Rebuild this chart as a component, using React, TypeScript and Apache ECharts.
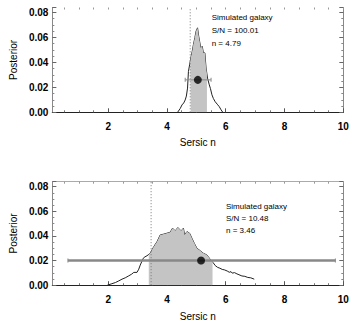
import React, { useEffect, useRef } from "react";
import * as echarts from "echarts";

// ---- data ----
const xTickLabels = [2, 4, 6, 8, 10];
const xMinorTicks = [0.5, 1, 1.5, 2.5, 3, 3.5, 4.5, 5, 5.5, 6.5, 7, 7.5, 8.5, 9, 9.5];
const xAllTicks = [0.5, 1, 1.5, 2, 2.5, 3, 3.5, 4, 4.5, 5, 5.5, 6, 6.5, 7, 7.5, 8, 8.5, 9, 9.5, 10];

// Top panel (S/N = 100.01)
const topCurve: [number, number][] = [
  [4.36, 0], [4.45, 0.003], [4.51, 0.0059], [4.57, 0.0075], [4.62, 0.0099], [4.66, 0.013],
  [4.70, 0.0194], [4.73, 0.0327], [4.77, 0.038], [4.81, 0.0435], [4.86, 0.049], [4.90, 0.0543],
  [4.95, 0.060], [4.99, 0.065], [5.04, 0.0677], [5.08, 0.061], [5.11, 0.0569], [5.15, 0.0516],
  [5.20, 0.0529], [5.24, 0.0476], [5.29, 0.0476], [5.33, 0.0355], [5.38, 0.0274], [5.44, 0.022],
  [5.48, 0.019], [5.53, 0.014], [5.58, 0.011], [5.64, 0.0085], [5.71, 0.0065], [5.78, 0.0045],
  [5.84, 0.002], [5.90, 0],
];
const topShadeEdges: [number, number][] = [[4.79, 0.041], [5.36, 0.031]];
const topTrueN = 4.79;
const topPoint: [number, number] = [5.05, 0.026];
const topErrBar: [number, number] = [4.62, 5.50];
const topTexts = ["Simulated galaxy", "S/N = 100.01", "n = 4.79"];

// Bottom panel (S/N = 10.48)
const botCurve: [number, number][] = [
  [1.97, 0], [2.1, 0.001], [2.25, 0.0022], [2.36, 0.0035], [2.47, 0.0049], [2.58, 0.006],
  [2.70, 0.0076], [2.80, 0.009], [2.87, 0.0104], [2.98, 0.0104], [3.04, 0.013], [3.09, 0.0163],
  [3.14, 0.019], [3.19, 0.0218], [3.25, 0.023], [3.32, 0.0239], [3.43, 0.0259], [3.55, 0.0313],
  [3.66, 0.0353], [3.77, 0.0408], [3.88, 0.0414], [4.0, 0.0422], [4.11, 0.043], [4.19, 0.0463],
  [4.28, 0.0441], [4.37, 0.0468], [4.48, 0.0441], [4.56, 0.0463], [4.60, 0.0408], [4.68, 0.0435],
  [4.77, 0.0422], [4.85, 0.0381], [4.93, 0.034], [5.02, 0.030], [5.13, 0.028], [5.24, 0.0259],
  [5.36, 0.0245], [5.44, 0.022], [5.50, 0.020], [5.58, 0.018], [5.64, 0.016], [5.72, 0.0145],
  [5.80, 0.0138], [5.88, 0.0128], [5.95, 0.0125], [6.05, 0.0115], [6.12, 0.0105], [6.18, 0.011],
  [6.22, 0.0098], [6.30, 0.0102], [6.38, 0.0092], [6.45, 0.0085], [6.55, 0.0075], [6.65, 0.0072],
  [6.75, 0.0063], [6.85, 0.006], [6.97, 0.0049],
];
const botShadeEdges: [number, number][] = [[3.38, 0.0251], [5.55, 0.0188]];
const botTrueN = 3.46;
const botPoint: [number, number] = [5.16, 0.02];
const botErrBar: [number, number] = [0.63, 9.73];
const botTexts = ["Simulated galaxy", "S/N = 10.48", "n = 3.46"];

const X_MIN = 0.1;
const X_MAX = 10;
const Y_MAX = 0.084;
const FONT = "'Liberation Sans', Arial, Helvetica, sans-serif";

function shadeData(curve: [number, number][], edges: [number, number][]) {
  const [lo, hi] = edges;
  return [lo, ...curve.filter((p) => p[0] > lo[0] && p[0] < hi[0]), hi];
}

function makeAxes(gridIndex: number, topLine: boolean) {
  const xAxes = [
    {
      type: "value", gridIndex, min: X_MIN, max: X_MAX, position: "bottom",
      name: "Sersic n", nameLocation: "middle", nameGap: gridIndex === 0 ? 25 : 26,
      nameTextStyle: { fontFamily: FONT, fontSize: 10, color: "#000" },
      axisLine: { show: true, onZero: false, lineStyle: { color: "#222", width: 1.2 } },
      axisTick: { show: true, inside: true, length: 4, lineStyle: { color: "#555" }, customValues: xTickLabels },
      axisLabel: { show: true, customValues: xTickLabels, margin: 9, fontFamily: FONT, fontSize: 10, color: "#000", fontWeight: "bold" },
      splitLine: { show: false },
    },
    {
      type: "value", gridIndex, min: X_MIN, max: X_MAX, position: "bottom",
      axisLine: { show: false },
      axisTick: { show: true, inside: true, length: 2, lineStyle: { color: "#777" }, customValues: xMinorTicks },
      axisLabel: { show: false },
      splitLine: { show: false },
    },
    {
      type: "value", gridIndex, min: X_MIN, max: X_MAX, position: "top",
      axisLine: { show: topLine, onZero: false, lineStyle: { color: "#aaa", width: 1 } },
      axisTick: { show: true, inside: true, length: 2, lineStyle: { color: "#999" }, customValues: xAllTicks },
      axisLabel: { show: false },
      splitLine: { show: false },
    },
  ];
  const yAxes = [
    {
      type: "value", gridIndex, min: 0, max: Y_MAX, interval: 0.02, position: "left",
      name: "Posterior", nameLocation: "middle", nameGap: 32,
      nameTextStyle: { fontFamily: FONT, fontSize: 10, color: "#000" },
      axisLine: { show: true, onZero: false, lineStyle: { color: "#888", width: 1 } },
      axisTick: { show: true, inside: true, length: 4, lineStyle: { color: "#666" } },
      minorTick: { show: true, splitNumber: 4, length: 2, lineStyle: { color: "#888" } },
      axisLabel: { show: true, showMaxLabel: false, margin: 4, fontFamily: FONT, fontSize: 10, color: "#000", fontWeight: "bold", formatter: (v: number) => v.toFixed(2) },
      splitLine: { show: false },
      minorSplitLine: { show: false },
    },
    {
      type: "value", gridIndex, min: 0, max: Y_MAX, interval: 0.02, position: "right",
      axisLine: { show: true, onZero: false, lineStyle: { color: "#888", width: 1 } },
      axisTick: { show: true, inside: true, length: 4, lineStyle: { color: "#666" } },
      minorTick: { show: true, splitNumber: 4, length: 2, lineStyle: { color: "#888" } },
      axisLabel: { show: false },
      splitLine: { show: false },
    },
  ];
  return { xAxes, yAxes };
}

function panelSeries(
  xi: number, yi: number, curve: [number, number][], edges: [number, number][],
  trueN: number, pt: [number, number], err: [number, number], errWidth: number,
) {
  return [
    {
      type: "line", xAxisIndex: xi, yAxisIndex: yi, data: curve, symbol: "none", z: 2,
      lineStyle: { color: "#222", width: 1 },
    },
    {
      type: "line", xAxisIndex: xi, yAxisIndex: yi, data: shadeData(curve, edges), symbol: "none", z: 3,
      lineStyle: { width: 0, color: "#c4c4c4" }, areaStyle: { color: "#c4c4c4", opacity: 1 },
    },
    {
      type: "line", xAxisIndex: xi, yAxisIndex: yi, data: [[trueN, 0], [trueN, Y_MAX]], symbol: "none", z: 4,
      lineStyle: { color: "#777", width: 1, type: [1, 2] },
    },
    {
      type: "line", xAxisIndex: xi, yAxisIndex: yi, data: [[err[0], pt[1]], [err[1], pt[1]]], z: 5,
      symbol: "rect", symbolSize: [1, 4], itemStyle: { color: "#888" },
      lineStyle: { color: "#888", width: errWidth },
    },
    {
      type: "scatter", xAxisIndex: xi, yAxisIndex: yi, data: [pt], symbol: "circle", symbolSize: 8, z: 6,
      itemStyle: { color: "#000" },
    },
  ];
}

export default function App() {
  const ref = useRef<HTMLDivElement>(null);
  useEffect(() => {
    if (!ref.current) return;
    const chart = echarts.init(ref.current, null, { renderer: "svg" });
    const a1 = makeAxes(0, false);
    const a2 = makeAxes(1, true);
    const textGraphic = (lines: string[], left: number, top: number, gap: number) =>
      lines.map((t, i) => ({
        type: "text", left, top: top + i * gap,
        style: { text: t, fontFamily: FONT, fontSize: 8, fill: "#000" },
      }));
    chart.setOption({
      animation: false,
      backgroundColor: "#fff",
      grid: [
        { left: 51.7, width: 291.6, top: 7.5, height: 104.8 },
        { left: 51.7, width: 291.6, top: 181.7, height: 103.5 },
      ],
      xAxis: [...a1.xAxes, ...a2.xAxes],
      yAxis: [...a1.yAxes, ...a2.yAxes],
      series: [
        ...panelSeries(0, 0, topCurve, topShadeEdges, topTrueN, topPoint, topErrBar, 1),
        ...panelSeries(3, 2, botCurve, botShadeEdges, botTrueN, botPoint, botErrBar, 2.5),
      ],
      graphic: [
        ...textGraphic(topTexts, 211.7, 13, 13),
        ...textGraphic(botTexts, 226, 202, 12.4),
      ],
    });
    return () => chart.dispose();
  }, []);
  return <div ref={ref} style={{ position: "fixed", left: 0, top: 0, width: 357, height: 323 }} />;
}
